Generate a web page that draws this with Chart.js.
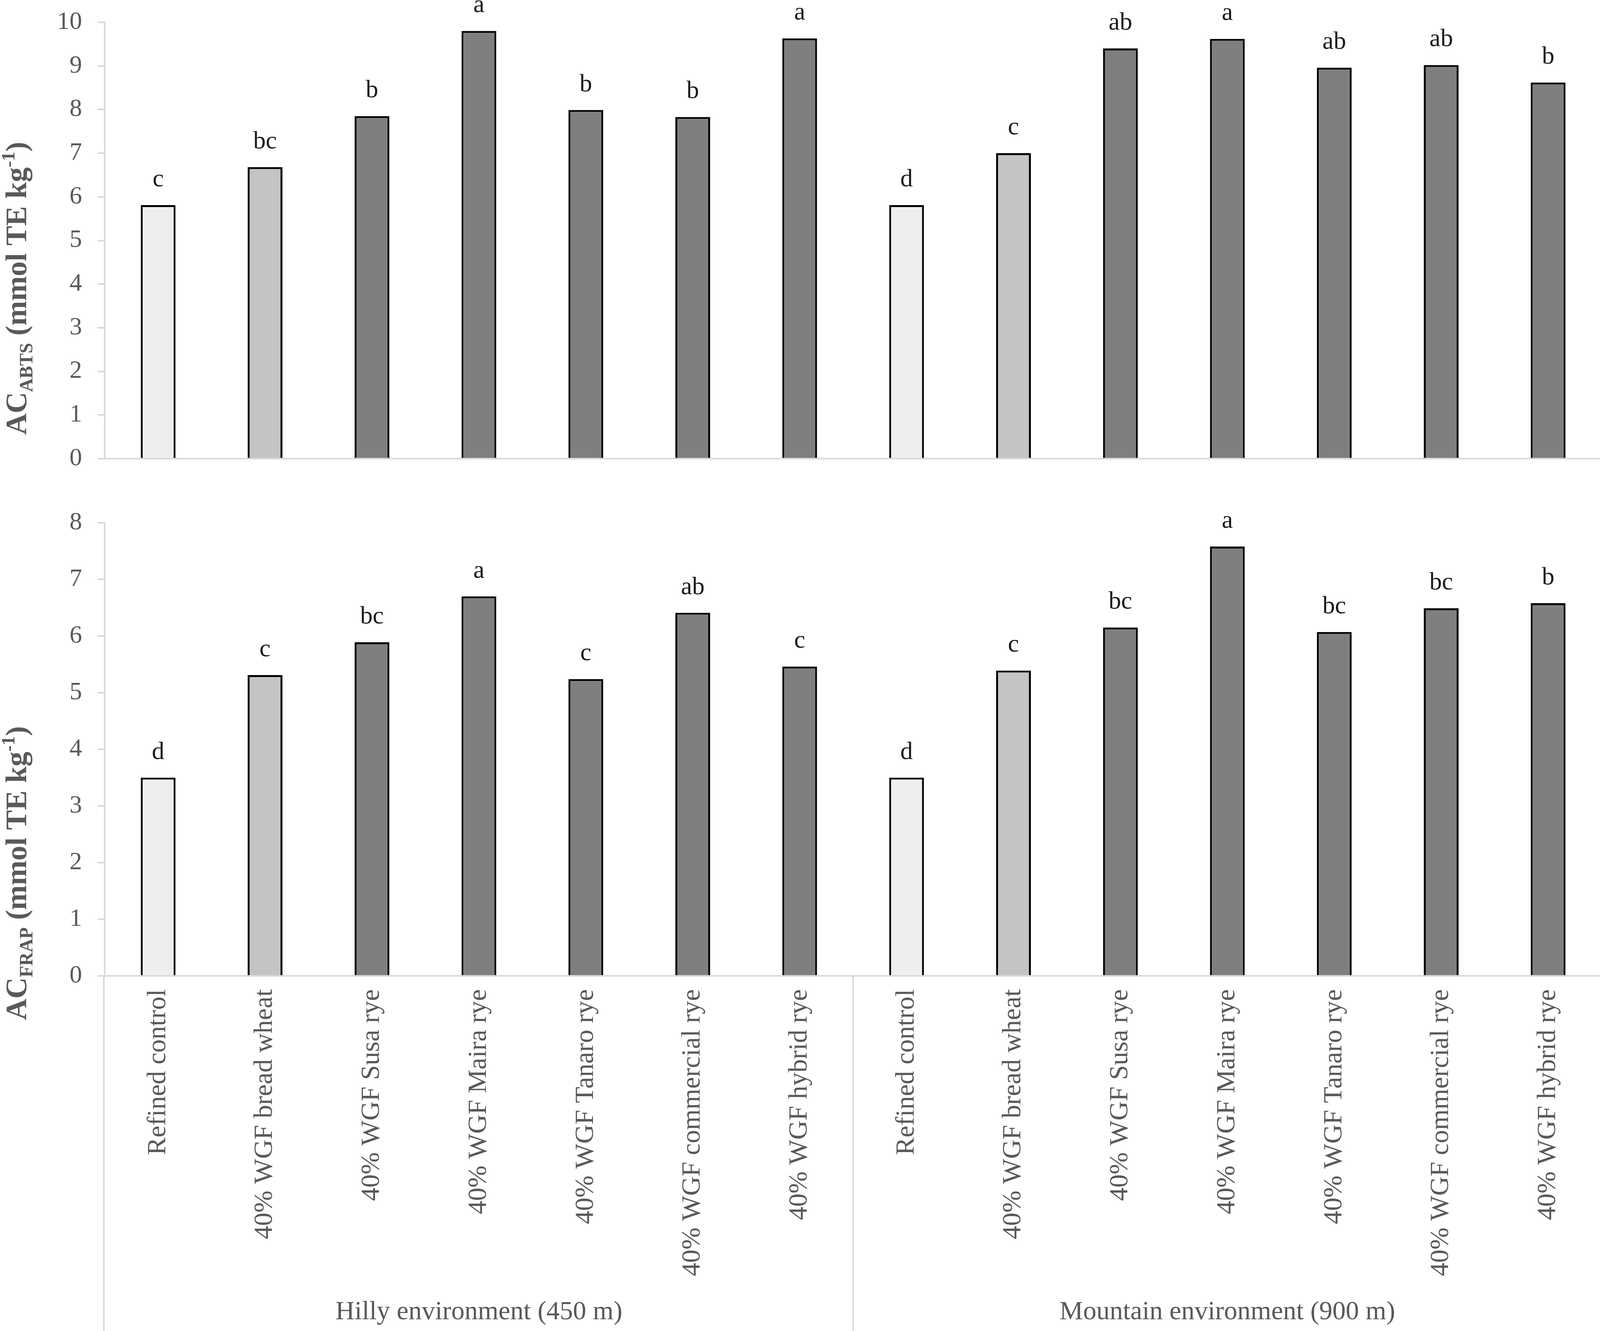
<!DOCTYPE html>
<html>
<head>
<meta charset="utf-8">
<script src="https://cdn.jsdelivr.net/npm/chart.js@4.4.0/dist/chart.umd.min.js"></script>
<style>
html,body{margin:0;padding:0;background:#fff;width:4114px;height:3407px;overflow:hidden}
canvas{position:absolute;left:0}
</style>
</head>
<body>
<canvas id="topChart" width="4114" height="1250" style="top:0;width:4114px;height:1250px"></canvas>
<canvas id="botChart" width="4114" height="2157" style="top:1250px;width:4114px;height:2157px"></canvas>
<script>
// ---------------- DATA ----------------
const treatments = [
  "Refined control",
  "40% WGF bread wheat",
  "40% WGF Susa rye",
  "40% WGF Maira rye",
  "40% WGF Tanaro rye",
  "40% WGF commercial rye",
  "40% WGF hybrid rye"
];
const environments = ["Hilly environment (450 m)", "Mountain environment (900 m)"];
const categories = environments.flatMap(() => treatments);

const abtsValues  = [5.81, 6.68, 7.85, 9.80, 7.99, 7.83, 9.63,   5.81, 7.00, 9.40, 9.62, 8.96, 9.02, 8.62];
const abtsLetters = ["c", "bc", "b", "a", "b", "b", "a",         "d", "c", "ab", "a", "ab", "ab", "b"];
const frapValues  = [3.50, 5.31, 5.89, 6.70, 5.24, 6.41, 5.46,   3.50, 5.39, 6.15, 7.58, 6.07, 6.49, 6.58];
const frapLetters = ["d", "c", "bc", "a", "c", "ab", "c",        "d", "c", "bc", "a", "bc", "bc", "b"];

const abtsAxis = { min: 0, max: 10, step: 1 };
const frapAxis = { min: 0, max: 8, step: 1 };

const abtsTitle = [["AC", "n"], ["ABTS", "sub"], [" (mmol TE kg", "n"], ["-1", "sup"], [")", "n"]];
const frapTitle = [["AC", "n"], ["FRAP", "sub"], [" (mmol TE kg", "n"], ["-1", "sup"], [")", "n"]];

// ---------------- STYLE ----------------
const FONT = '"Liberation Serif", "Times New Roman", serif';
const AXIS_GREY = "#D9D9D9";
const TEXT_GREY = "#595959";
const FILL_CONTROL = "#EFEDED";
const FILL_WHEAT = "#C4C4C4";
const FILL_RYE = "#7F7F7F";
const fills = categories.map((c, i) => (i % 7 === 0 ? FILL_CONTROL : (i % 7 === 1 ? FILL_WHEAT : FILL_RYE)));

Chart.defaults.font.family = FONT;
Chart.defaults.color = TEXT_GREY;

const sigLetters = {
  id: "sigLetters",
  afterDatasetsDraw(chart, args, opts) {
    const ctx = chart.ctx;
    const meta = chart.getDatasetMeta(0);
    ctx.save();
    ctx.font = "64px " + FONT;
    ctx.fillStyle = "#1a1a1a";
    ctx.textAlign = "center";
    ctx.textBaseline = "alphabetic";
    meta.data.forEach((bar, i) => {
      ctx.fillText(opts.letters[i], bar.x, bar.y - 48);
    });
    ctx.restore();
  }
};

const yTitle = {
  id: "yTitle",
  afterDraw(chart, args, opts) {
    const ctx = chart.ctx;
    const big = 76, small = 48;
    const fontFor = k => "bold " + (k === "n" ? big : small) + "px " + FONT;
    let total = 0;
    opts.parts.forEach(([t, k]) => { ctx.font = fontFor(k); total += ctx.measureText(t).width; });
    ctx.save();
    ctx.translate(opts.baseX, opts.centerY);
    ctx.rotate(-Math.PI / 2);
    ctx.fillStyle = TEXT_GREY;
    ctx.textAlign = "left";
    ctx.textBaseline = "alphabetic";
    let x = -total / 2;
    opts.parts.forEach(([t, k]) => {
      ctx.font = fontFor(k);
      const dy = k === "sub" ? 16 : (k === "sup" ? -30 : 0);
      ctx.fillText(t, x, dy);
      x += ctx.measureText(t).width;
    });
    ctx.restore();
  }
};

const groupAxis = {
  id: "groupAxis",
  afterDraw(chart, args, opts) {
    const ctx = chart.ctx;
    const xs = chart.scales.x;
    const area = chart.chartArea;
    const bottom = chart.height;
    ctx.save();
    ctx.strokeStyle = AXIS_GREY;
    ctx.lineWidth = 4;
    const per = treatments.length;
    const bounds = [area.left - 2];
    for (let g = 1; g < environments.length; g++) {
      bounds.push((xs.getPixelForValue(g * per - 1) + xs.getPixelForValue(g * per)) / 2);
    }
    bounds.forEach(bx => {
      ctx.beginPath();
      ctx.moveTo(bx, area.bottom);
      ctx.lineTo(bx, bottom);
      ctx.stroke();
    });
    ctx.fillStyle = TEXT_GREY;
    ctx.font = "68px " + FONT;
    ctx.textAlign = "center";
    ctx.textBaseline = "middle";
    environments.forEach((env, g) => {
      const cx = (xs.getPixelForValue(g * per) + xs.getPixelForValue(g * per + per - 1)) / 2;
      ctx.fillText(env, cx, opts.labelY);
    });
    ctx.restore();
  }
};

function makeChart(canvasId, values, letters, axis, title, cfg) {
  return new Chart(document.getElementById(canvasId), {
    type: "bar",
    data: {
      labels: categories,
      datasets: [{
        data: values,
        backgroundColor: fills,
        borderColor: "#000000",
        borderWidth: 5,
        categoryPercentage: 1.0,
        barPercentage: 0.325
      }]
    },
    options: {
      responsive: false,
      animation: false,
      devicePixelRatio: 1,
      layout: { padding: { top: cfg.padTop, right: 14, left: 0, bottom: 0 } },
      plugins: {
        legend: { display: false },
        tooltip: { enabled: false },
        sigLetters: { letters: letters },
        yTitle: { parts: title, baseX: 67, centerY: cfg.titleY },
        groupAxis: { labelY: cfg.groupY }
      },
      scales: {
        x: {
          type: "category",
          offset: true,
          grid: { display: false, drawTicks: false },
          border: { display: true, color: AXIS_GREY, width: 4 },
          ticks: {
            display: cfg.showLabels,
            autoSkip: false,
            minRotation: 90,
            maxRotation: 90,
            padding: 34,
            color: TEXT_GREY,
            font: { size: 68, family: FONT }
          },
          afterFit: s => {
            s.height = cfg.xHeight;
            s.paddingLeft = 0; s.paddingRight = 0; s.paddingTop = 0; s.paddingBottom = 0;
          }
        },
        y: {
          min: axis.min,
          max: axis.max,
          ticks: {
            stepSize: axis.step,
            padding: 40,
            color: TEXT_GREY,
            font: { size: 64, family: FONT }
          },
          grid: { display: true, drawOnChartArea: false, drawTicks: true, tickLength: 18, color: AXIS_GREY, lineWidth: 4 },
          border: { display: true, color: AXIS_GREY, width: 4 },
          afterFit: s => {
            s.width = 268;
            s.paddingLeft = 0; s.paddingRight = 0; s.paddingTop = 0; s.paddingBottom = 0;
          }
        }
      }
    },
    plugins: cfg.group ? [sigLetters, yTitle, groupAxis] : [sigLetters, yTitle]
  });
}

makeChart("topChart", abtsValues, abtsLetters, abtsAxis, abtsTitle,
  { padTop: 57, xHeight: 76, showLabels: false, titleY: 738, group: false, groupY: 0 });
makeChart("botChart", frapValues, frapLetters, frapAxis, frapTitle,
  { padTop: 88, xHeight: 909, showLabels: true, titleY: 985, group: true, groupY: 2109 });
</script>
</body>
</html>
